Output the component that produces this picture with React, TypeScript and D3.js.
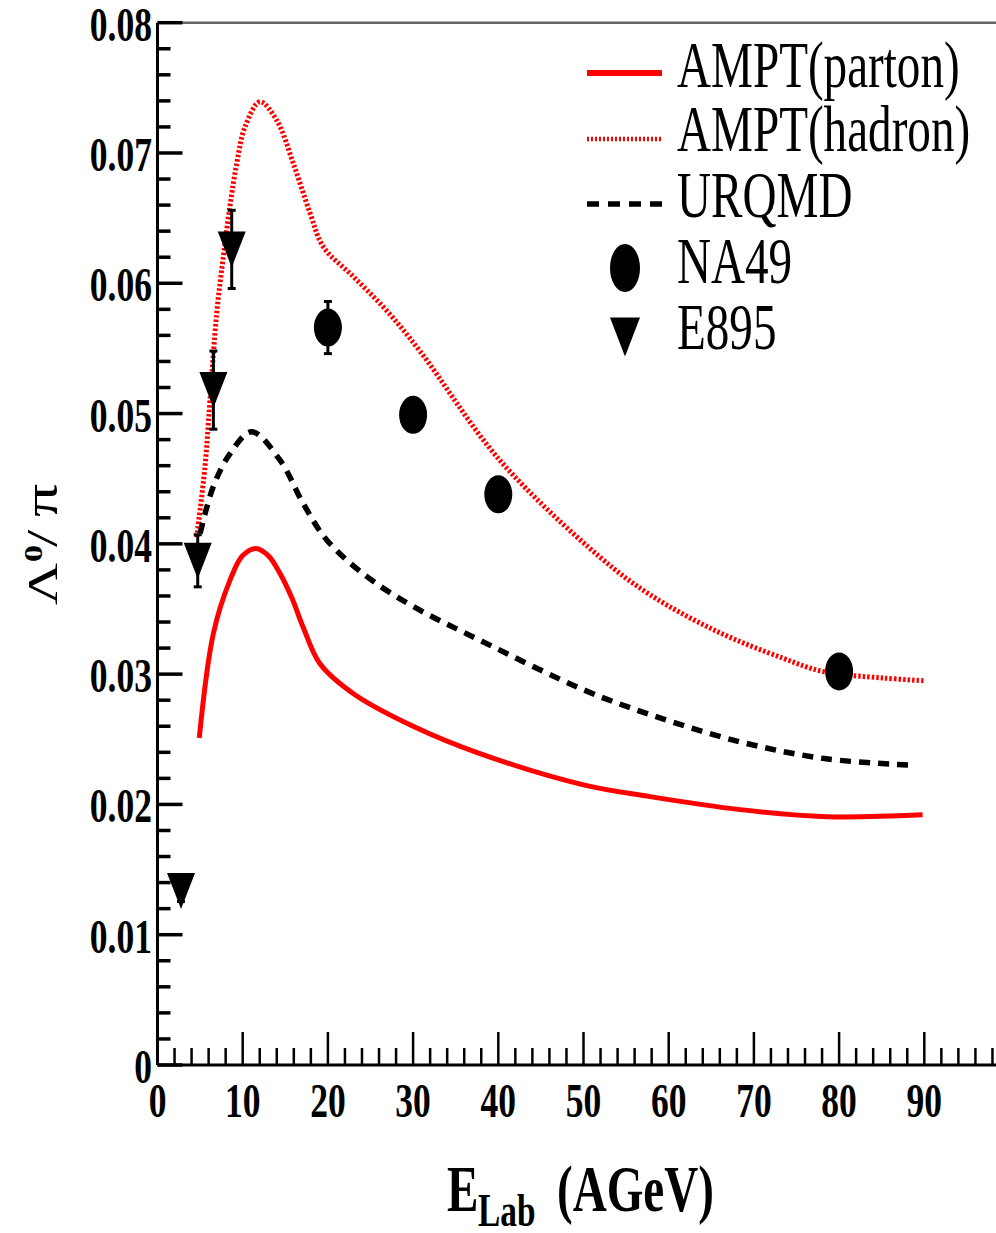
import React, { useEffect } from "react";
import * as d3 from "d3";

// ---- data ----
const partonX = [4.9, 6.55, 8.5, 10.0, 11.56, 13.0, 14.4, 15.8, 17.1, 19.07, 23.0, 30.0, 37.85, 50.0, 57.8, 68.4, 78.5, 89.8];
const partonY = [0.0251, 0.0331, 0.0372, 0.0391, 0.03965, 0.0391, 0.0377, 0.0358, 0.0336, 0.0308, 0.0285, 0.026, 0.0239, 0.0215, 0.0206, 0.0196, 0.01906, 0.0192];

const hadronX = [4.6, 5.57, 6.16, 6.95, 7.72, 8.5, 9.3, 10.27, 12.03, 14.0, 15.94, 17.9, 19.46, 23.0, 26.9, 30.8, 40.2, 51.9, 57.8, 65.6, 73.5, 78.1, 85.2, 89.9];
const hadronY = [0.0405, 0.0459, 0.051, 0.0577, 0.062, 0.0659, 0.0692, 0.072, 0.07393, 0.0725, 0.0692, 0.0654, 0.0628, 0.0605, 0.0579, 0.0548, 0.0464, 0.039, 0.0361, 0.0333, 0.0312, 0.0302, 0.0297, 0.0295];

const urqmdX = [5.0, 6.55, 8.5, 11.05, 14.4, 17.1, 19.86, 24.55, 30.0, 37.85, 50.0, 57.8, 68.4, 78.5, 89.0];
const urqmdY = [0.0408, 0.0444, 0.0469, 0.0486, 0.0464, 0.0431, 0.0403, 0.0375, 0.0352, 0.0326, 0.0288, 0.0269, 0.0248, 0.0235, 0.023];

const na49X = [20, 30, 40, 80];
const na49Y = [0.0566, 0.0499, 0.0438, 0.0302];
const na49Err = [0.002, 0.0012, 0.0012, 0.0012];

const e895X = [2.76, 4.72, 6.56, 8.71];
const e895Y = [0.01335, 0.0387, 0.0518, 0.0626];
const e895Err = [0.0008, 0.002, 0.003, 0.003];

const xMajorTicks = [0, 10, 20, 30, 40, 50, 60, 70, 80, 90];
const xTickLabels = ["0", "10", "20", "30", "40", "50", "60", "70", "80", "90"];
const yMajorTicks = [0, 0.01, 0.02, 0.03, 0.04, 0.05, 0.06, 0.07, 0.08];
const yTickLabels = ["0", "0.01", "0.02", "0.03", "0.04", "0.05", "0.06", "0.07", "0.08"];

const legendLabels = ["AMPT(parton)", "AMPT(hadron)", "URQMD", "NA49", "E895"];

const W = 996;
const H = 1233;
const FONT = "'Liberation Serif', 'Times New Roman', serif";
const SX = 0.725;

const xs = d3.scaleLinear().domain([0, 100]).range([157.5, 1009.5]);
const ys = d3.scaleLinear().domain([0, 0.08]).range([1065, 22.7]);

function line(xv: number[], yv: number[]) {
  const pts: [number, number][] = xv.map((x, i) => [x, yv[i]]);
  return d3
    .line<[number, number]>()
    .x((d) => xs(d[0]))
    .y((d) => ys(d[1]))
    .curve(d3.curveCatmullRom.alpha(0.5))(pts) as string;
}

function STxt(props: { x: number; y: number; anchor?: string; size: number; weight?: string; children: any }) {
  return (
    <g transform={`translate(${props.x},${props.y}) scale(${SX},1)`}>
      <text
        x={0}
        y={0}
        textAnchor={props.anchor || "start"}
        fontSize={props.size}
        fontWeight={props.weight || "normal"}
        fontFamily={FONT}
        fill="#000"
      >
        {props.children}
      </text>
    </g>
  );
}

function triPath(cx: number, cy: number, w: number, h: number) {
  return `M${cx - w / 2},${cy - h / 2}L${cx + w / 2},${cy - h / 2}L${cx},${cy + h / 2}Z`;
}

export default function App() {
  useEffect(() => {
    document.body.style.margin = "0";
    document.body.style.overflow = "hidden";
  }, []);

  const xMinor = d3.range(0, 100, 2).filter((v) => v % 10 !== 0);
  const yMinor = d3.range(0, 81, 2).map((v) => v / 1000).filter((v, i) => i % 5 !== 0);

  const legendY = [73, 139, 204, 268, 337];
  const legendTextY = [87, 151, 217, 283, 349];

  return (
    <svg width={W} height={H} style={{ position: "absolute", left: 0, top: 0, background: "#fff" }}>
      <rect x={0} y={0} width={W} height={H} fill="#fff" />
      {/* frame top */}
      <line x1={xs(0)} x2={W} y1={ys(0.08)} y2={ys(0.08)} stroke="#666" strokeWidth={2.5} />
      {/* axes */}
      <line x1={xs(0)} x2={xs(0)} y1={ys(0.08)} y2={ys(0)} stroke="#000" strokeWidth={3} />
      <line x1={xs(0)} x2={W} y1={ys(0)} y2={ys(0)} stroke="#000" strokeWidth={3} />
      {/* y ticks */}
      {yMajorTicks.map((v) => (
        <line key={"ym" + v} x1={xs(0)} x2={xs(0) + 25} y1={ys(v)} y2={ys(v)} stroke="#000" strokeWidth={3.5} />
      ))}
      {yMinor.map((v) => (
        <line key={"yn" + v} x1={xs(0)} x2={xs(0) + 13} y1={ys(v)} y2={ys(v)} stroke="#000" strokeWidth={3.5} />
      ))}
      {/* x ticks */}
      {xMajorTicks.map((v) => (
        <line key={"xm" + v} x1={xs(v)} x2={xs(v)} y1={ys(0)} y2={ys(0) - 33} stroke="#000" strokeWidth={2.5} />
      ))}
      {xMinor.map((v) => (
        <line key={"xn" + v} x1={xs(v)} x2={xs(v)} y1={ys(0)} y2={ys(0) - 17} stroke="#000" strokeWidth={2.5} />
      ))}
      {/* tick labels */}
      {yMajorTicks.map((v, i) => (
        <STxt key={"yl" + v} x={152} y={ys(v) + 18} anchor="end" size={49} weight="bold">
          {yTickLabels[i]}
        </STxt>
      ))}
      {xMajorTicks.map((v, i) => (
        <STxt key={"xl" + v} x={xs(v)} y={1117} anchor="middle" size={49} weight="bold">
          {xTickLabels[i]}
        </STxt>
      ))}
      {/* axis titles */}
      <g transform={`translate(447,1211) scale(${SX},1)`}>
        <text fontFamily={FONT} fontWeight="bold" fill="#000">
          <tspan x={0} y={0} fontSize={65}>E</tspan>
          <tspan x={(478 - 447) / SX} y={15} fontSize={46}>Lab</tspan>
          <tspan x={(557 - 447) / SX} y={0} fontSize={65}>(AGeV)</tspan>
        </text>
      </g>
      <g transform={`translate(57,605) rotate(-90) scale(1,${SX})`}>
        <text fontFamily={FONT} fill="#000">
          <tspan x={0} y={0} fontSize={58}>Λ</tspan>
          <tspan x={43} y={-21} fontSize={34} fontWeight="bold">0</tspan>
          <tspan x={58} y={0} fontSize={62}>/</tspan>
          <tspan x={88} y={0} fontSize={66}>π</tspan>
        </text>
      </g>
      {/* curves */}
      <path d={line(partonX, partonY)} fill="none" stroke="#ff0000" strokeWidth={5} />
      <path d={line(hadronX, hadronY)} fill="none" stroke="#ff0000" strokeWidth={5} strokeDasharray="2.5,2" />
      <path d={line(urqmdX, urqmdY)} fill="none" stroke="#000" strokeWidth={5.5} strokeDasharray="11,8" />
      {/* NA49 */}
      {na49X.map((x, i) => (
        <g key={"na" + i}>
          <line x1={xs(x)} x2={xs(x)} y1={ys(na49Y[i] + na49Err[i])} y2={ys(na49Y[i] - na49Err[i])} stroke="#000" strokeWidth={3} />
          <line x1={xs(x) - 4} x2={xs(x) + 4} y1={ys(na49Y[i] + na49Err[i])} y2={ys(na49Y[i] + na49Err[i])} stroke="#000" strokeWidth={3} />
          <line x1={xs(x) - 4} x2={xs(x) + 4} y1={ys(na49Y[i] - na49Err[i])} y2={ys(na49Y[i] - na49Err[i])} stroke="#000" strokeWidth={3} />
          <ellipse cx={xs(x)} cy={ys(na49Y[i])} rx={14} ry={19} fill="#000" />
        </g>
      ))}
      {/* E895 */}
      {e895X.map((x, i) => (
        <g key={"e8" + i}>
          <line x1={xs(x)} x2={xs(x)} y1={ys(e895Y[i] + e895Err[i])} y2={ys(e895Y[i] - e895Err[i])} stroke="#000" strokeWidth={3} />
          <line x1={xs(x) - 4} x2={xs(x) + 4} y1={ys(e895Y[i] + e895Err[i])} y2={ys(e895Y[i] + e895Err[i])} stroke="#000" strokeWidth={3} />
          <line x1={xs(x) - 4} x2={xs(x) + 4} y1={ys(e895Y[i] - e895Err[i])} y2={ys(e895Y[i] - e895Err[i])} stroke="#000" strokeWidth={3} />
          <path d={triPath(xs(x), ys(e895Y[i]), 28, 36)} fill="#000" />
        </g>
      ))}
      {/* legend */}
      <line x1={587} x2={662} y1={legendY[0]} y2={legendY[0]} stroke="#ff0000" strokeWidth={6} />
      <line x1={587} x2={662} y1={legendY[1]} y2={legendY[1]} stroke="#ff0000" strokeWidth={4.5} strokeDasharray="2,2" />
      <line x1={587} x2={662} y1={legendY[2]} y2={legendY[2]} stroke="#000" strokeWidth={5.5} strokeDasharray="12,9" />
      <ellipse cx={625} cy={legendY[3]} rx={15} ry={24} fill="#000" />
      <path d={triPath(625, legendY[4], 30, 39)} fill="#000" />
      {legendLabels.map((t, i) => (
        <STxt key={"lg" + i} x={677} y={legendTextY[i]} size={65}>
          {t}
        </STxt>
      ))}
    </svg>
  );
}
